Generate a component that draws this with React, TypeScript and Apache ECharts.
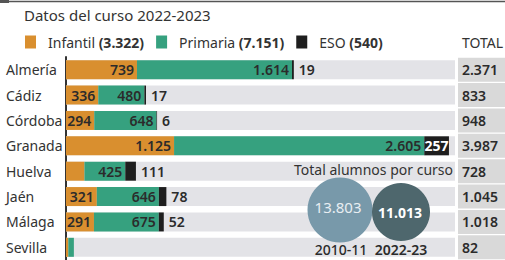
import React, { useEffect, useRef } from "react";
import * as echarts from "echarts";

const categories = ["Almería", "Cádiz", "Córdoba", "Granada", "Huelva", "Jaén", "Málaga", "Sevilla"];
const infantil = [739, 336, 294, 1125, 192, 321, 291, 24];
const primaria = [1614, 480, 648, 2605, 425, 646, 675, 58];
const eso = [19, 17, 6, 257, 111, 78, 52, 0];
const totals = [2371, 833, 948, 3987, 728, 1045, 1018, 82];
const cursos = ["2010-11", "2022-23"];
const alumnosCurso = [13803, 11013];

const FONT = "Noto Sans";
const fmt = (n: number) => String(n).replace(/\B(?=(\d{3})+(?!\d))/g, ".");
const sum = (a: number[]) => a.reduce((s, v) => s + v, 0);

export default function App() {
  const ref = useRef<HTMLDivElement>(null);
  useEffect(() => {
    if (!ref.current) return;
    const chart = echarts.init(ref.current, undefined, { renderer: "svg" });

    const labelBase = {
      fontFamily: FONT,
      fontSize: 14,
      fontWeight: 600,
      color: "#2b2b2b",
    };

    const inner = (arr: number[]) =>
      arr.map((v) => ({
        value: v,
        label: { show: v >= 250 },
      }));

    const esoData = eso.map((v) =>
      v >= 200
        ? { value: v, label: { show: true, position: "inside", color: "#fff", fontWeight: "bold" } }
        : { value: v, label: { show: v > 0, position: "right" } }
    );

    const rBig = 32.5;
    const radius = (v: number) => rBig * Math.sqrt(v / alumnosCurso[0]);

    const option: any = {
      animation: false,
      textStyle: { fontFamily: FONT },
      legend: {
        left: 20,
        top: 30,
        itemWidth: 11,
        itemHeight: 13,
        itemGap: 12,
        icon: "rect",
        selectedMode: false,
        data: ["Infantil", "Primaria", "ESO"],
        formatter: (name: string) => {
          const t = name === "Infantil" ? sum(infantil) : name === "Primaria" ? sum(primaria) : sum(eso);
          return `{s|}${name} {b|(${fmt(t)})}`;
        },
        textStyle: {
          fontFamily: FONT,
          fontSize: 14,
          color: "#333",
          rich: {
            s: { width: 7 },
            b: { fontFamily: FONT, fontSize: 14, fontWeight: "bold", color: "#333" },
          },
        },
      },
      grid: [
        { left: 66, right: 50, top: 57, bottom: 0 },
        { left: 458, right: 0, top: 57, bottom: 0 },
      ],
      xAxis: [
        { type: "value", min: 0, max: 4050, show: false, gridIndex: 0 },
        { type: "value", min: 0, max: 1, show: false, gridIndex: 1 },
      ],
      yAxis: [
        {
          type: "category",
          data: categories,
          inverse: true,
          gridIndex: 0,
          axisLine: { show: true, lineStyle: { color: "#333", width: 2 } },
          axisTick: { show: false },
          axisLabel: {
            fontFamily: FONT,
            fontSize: 14,
            color: "#333",
            align: "left",
            margin: 60,
          },
        },
        { type: "category", data: categories, inverse: true, gridIndex: 1, show: false },
      ],
      series: [
        {
          name: "Infantil",
          type: "bar",
          stack: "t",
          barWidth: 19,
          showBackground: true,
          backgroundStyle: { color: "#e3e3e7" },
          itemStyle: { color: "#d98f2f" },
          label: { ...labelBase, position: "insideRight", distance: 3, formatter: (p: any) => fmt(p.value) },
          data: inner(infantil),
        },
        {
          name: "Primaria",
          type: "bar",
          stack: "t",
          barWidth: 19,
          itemStyle: { color: "#36a17f" },
          label: { ...labelBase, position: "insideRight", distance: 3, formatter: (p: any) => fmt(p.value) },
          data: inner(primaria),
        },
        {
          name: "ESO",
          type: "bar",
          stack: "t",
          barWidth: 19,
          itemStyle: { color: "#1e1e1e" },
          label: { ...labelBase, distance: 5, formatter: (p: any) => fmt(p.value) },
          data: esoData,
        },
        {
          name: "Total",
          type: "bar",
          xAxisIndex: 1,
          yAxisIndex: 1,
          barWidth: 24,
          itemStyle: { color: "#d9d9d9" },
          silent: true,
          label: {
            show: true,
            position: "insideLeft",
            distance: 4,
            fontFamily: FONT,
            fontSize: 14,
            fontWeight: 600,
            color: "#2b2b2b",
            formatter: (p: any) => fmt(totals[p.dataIndex]),
          },
          data: totals.map(() => 1),
        },
      ],
      graphic: [
        { type: "line", z: 100, shape: { x1: 0, y1: 1.5, x2: 505, y2: 1.5 }, style: { stroke: "#555", lineWidth: 1.5 } },
        { type: "rect", z: 100, shape: { x: 0, y: 0, width: 9, height: 3 }, style: { fill: "#555" } },
        {
          type: "text", z: 100, left: 24, top: 7,
          style: { text: "Datos del curso 2022-2023", fontFamily: FONT, fontSize: 15, fill: "#333" },
        },
        {
          type: "text", z: 100, left: 462, top: 35,
          style: { text: "TOTAL", fontFamily: FONT, fontSize: 14, fill: "#333" },
        },
        {
          type: "text", z: 100, x: 453, y: 169,
          style: { text: "Total alumnos por curso", fontFamily: FONT, fontSize: 14, fill: "#333", align: "right", verticalAlign: "middle" },
        },
        {
          type: "circle", z: 100, shape: { cx: 340, cy: 210, r: radius(alumnosCurso[0]) },
          style: { fill: "#7899aa" },
        },
        {
          type: "circle", z: 101, shape: { cx: 401, cy: 212, r: radius(alumnosCurso[1]) },
          style: { fill: "#4e676d" },
        },
        {
          type: "text", z: 102, x: 338, y: 207,
          style: { text: fmt(alumnosCurso[0]), fontFamily: FONT, fontSize: 15, fill: "#e8eef2", align: "center", verticalAlign: "middle" },
        },
        {
          type: "text", z: 102, x: 400, y: 212,
          style: { text: fmt(alumnosCurso[1]), fontFamily: FONT, fontSize: 14, fontWeight: "bold", fill: "#fff", align: "center", verticalAlign: "middle" },
        },
        {
          type: "text", z: 102, x: 341, y: 249,
          style: { text: cursos[0], fontFamily: FONT, fontSize: 14, fontWeight: 500, fill: "#2b2b2b", align: "center", verticalAlign: "middle" },
        },
        {
          type: "text", z: 102, x: 401, y: 249,
          style: { text: cursos[1], fontFamily: FONT, fontSize: 14, fontWeight: 600, fill: "#2b2b2b", align: "center", verticalAlign: "middle" },
        },
      ],
    };

    chart.setOption(option);
    return () => chart.dispose();
  }, []);

  return <div ref={ref} style={{ width: 505, height: 260, position: "absolute", left: 0, top: 0 }} />;
}
